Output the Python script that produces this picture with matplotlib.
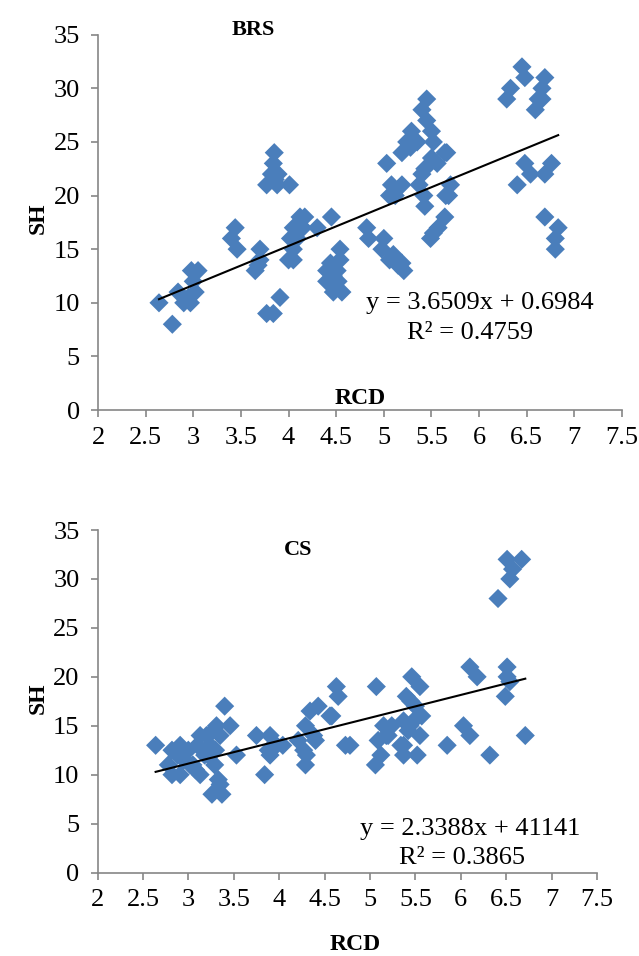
import matplotlib
matplotlib.use("Agg")
from matplotlib import pyplot as plt
import numpy as np

# BRS panel (RCD vs SH)
brs_rcd = [2.64, 2.78, 2.84, 2.90, 2.95, 2.97, 3.00, 2.98, 3.05, 3.02,
           3.44, 3.40, 3.46, 3.70, 3.65, 3.70, 3.68,
           3.77, 3.84, 3.91,
           3.85, 3.84, 3.82, 3.77, 3.88, 3.89, 4.01, 3.86,
           4.12, 4.17, 4.05, 4.02, 4.09, 4.05, 4.00, 4.05, 4.15,
           4.30, 4.45, 4.54, 4.54, 4.44, 4.40, 4.51, 4.40, 4.47, 4.56, 4.52, 4.47,
           4.82, 4.84,
           5.00, 4.98, 5.10, 5.06, 5.14, 5.21, 5.19, 5.15,
           5.03, 5.08, 5.06, 5.19, 5.12,
           5.45, 5.40, 5.45, 5.50, 5.29, 5.24, 5.19, 5.35, 5.52, 5.64, 5.66, 5.50,
           5.56, 5.43, 5.40, 5.37, 5.42, 5.43, 5.70, 5.68, 5.65, 5.64, 5.57, 5.52,
           5.49, 5.28,
           6.45, 6.48, 6.33, 6.29, 6.69, 6.66, 6.62, 6.59, 6.66,
           6.48, 6.54, 6.40, 6.76, 6.69, 6.69, 6.83, 6.80, 6.80]
brs_sh = [10, 8, 11, 10, 10.5, 10, 12, 13, 13, 11,
          17, 16, 15, 15, 13, 14, 13.5,
          9, 9, 10.5,
          24, 23, 22, 21, 21, 22, 21, 21.5,
          18, 18, 17, 16, 16, 15, 14, 14, 17,
          17, 18, 15, 14, 13.7, 13, 13, 12, 11, 11, 12, 12.5,
          17, 16,
          16, 15, 14.5, 14, 14, 13, 13.7, 13.5,
          23, 21, 20, 21, 20,
          29, 28, 27, 26, 26, 25, 24, 25, 25, 24, 24, 23.5,
          23, 22.5, 22, 21, 20, 19, 21, 20, 20, 18, 17, 16.5,
          16, 24.5,
          32, 31, 30, 29, 31, 30, 29, 28, 29,
          23, 22, 21, 23, 22, 18, 17, 16, 15]

# CS panel
cs_rcd = [2.64, 2.82, 2.91, 2.78, 2.82, 2.91, 3.13, 3.02, 3.13, 3.24, 3.31,
          3.40, 3.46, 3.29, 3.33, 3.26, 3.37, 3.35, 3.18, 3.53, 2.88, 2.95,
          3.00, 3.05, 3.10, 3.20, 3.27, 3.35, 3.30, 3.22, 3.08,
          3.75, 3.90, 3.84, 3.97, 3.90, 4.04, 3.88,
          4.43, 4.63, 4.65, 4.58, 4.29, 4.21, 4.40, 4.29, 4.30, 4.34, 4.27, 4.38,
          4.73, 4.78, 4.56,
          5.07, 5.15, 5.09, 5.06, 5.24, 5.18, 5.12, 5.20,
          5.40, 5.46, 5.55, 5.37, 5.48, 5.37, 5.37, 5.52, 5.55, 5.57, 5.44, 5.34,
          5.45, 5.50, 5.42,
          5.85, 6.03, 6.10, 6.10, 6.18, 6.51, 6.54, 6.49, 6.51, 6.71, 6.32,
          6.51, 6.67, 6.54, 6.57, 6.41]
cs_sh = [13, 12.5, 13, 11, 10, 10, 10, 11, 14, 13, 15,
         17, 15, 11, 9.5, 8, 8, 9, 12, 12, 12, 11.5,
         12.5, 11, 13, 14, 14.5, 14, 12.5, 12, 10.5,
         14, 14, 10, 13, 12, 13, 12.5,
         17, 19, 18, 16, 15, 13.5, 13.5, 11, 12, 16.5, 12.5, 14,
         13, 13, 16,
         19, 15, 13.5, 11, 15, 14, 12, 14,
         18, 20, 19, 15.5, 15.5, 13, 12, 12, 14, 16, 15, 13,
         17.5, 17, 14.5,
         13, 15, 14, 21, 20, 21, 19.5, 18, 20, 14, 12,
         32, 32, 30, 31, 28]

brs_fit = (3.6509, 0.6984)
cs_fit = (2.3388, 4.1141)

xticks = [2, 2.5, 3, 3.5, 4, 4.5, 5, 5.5, 6, 6.5, 7, 7.5]
xtick_labels = ["2", "2.5", "3", "3.5", "4", "4.5", "5", "5.5", "6", "6.5", "7", "7.5"]
yticks = [0, 5, 10, 15, 20, 25, 30, 35]

plt.rcParams['font.family'] = ['Liberation Serif', 'DejaVu Serif']
blue = '#4A7EBB'
grey = '#868686'

fig = plt.figure(figsize=(6.39, 9.56), dpi=100)
ax1 = fig.add_axes([0.1534, 0.5711, 0.820, 0.3926])
ax2 = fig.add_axes([0.1526, 0.0873, 0.7817, 0.3583])


def style(ax):
    ax.set_xlim(2, 7.5)
    ax.set_ylim(0, 35)
    ax.set_xticks(xticks)
    ax.set_xticklabels(xtick_labels)
    ax.set_yticks(yticks)
    for s in ['top', 'right']:
        ax.spines[s].set_visible(False)
    for s in ['left', 'bottom']:
        ax.spines[s].set_color(grey)
        ax.spines[s].set_linewidth(1.2)
    ax.tick_params(direction='out', length=5, width=1.2, color=grey,
                   labelsize=19)
    ax.tick_params(axis='y', pad=8)
    ax.tick_params(axis='x', pad=7)


def panel(ax, xs, ys, fit, eq, r2, eq_pos, r2_pos, ylab_x):
    xs = np.array(xs)
    ys = np.array(ys)
    ax.scatter(xs, ys, marker='D', s=95, color=blue, edgecolors='none',
               zorder=3, clip_on=False)
    lx = np.array([xs.min(), xs.max()])
    ax.plot(lx, fit[0] * lx + fit[1], color='black', lw=1.5, zorder=4)
    style(ax)
    ax.set_ylabel("SH", fontsize=17, fontweight='bold')
    ax.yaxis.set_label_coords(ylab_x, 0.51)
    ax.text(eq_pos[0], eq_pos[1], eq, fontsize=19, ha='center', va='center')
    ax.text(r2_pos[0], r2_pos[1], r2, fontsize=19, ha='center', va='center')


panel(ax1, brs_rcd, brs_sh, brs_fit, "y = 3.6509x + 0.6984",
      "R² = 0.4759", (6.01, 10.0), (5.91, 7.2), -0.094)
ax1.text(3.63, 35.0, "BRS", fontsize=16, fontweight='bold', ha='center')
ax1.text(4.75, 1.1, "RCD", fontsize=17, fontweight='bold', ha='center',
         va='center')

panel(ax2, cs_rcd, cs_sh, cs_fit, "y = 2.3388x + 41141",
      "R² = 0.3865", (6.10, 4.5), (6.01, 1.5), -0.097)
ax2.text(4.21, 32.4, "CS", fontsize=16, fontweight='bold', ha='center')
ax2.set_xlabel("RCD", fontsize=17, fontweight='bold')
ax2.xaxis.set_label_coords(0.515, -0.18)

fig.savefig("out.png", dpi=100)
